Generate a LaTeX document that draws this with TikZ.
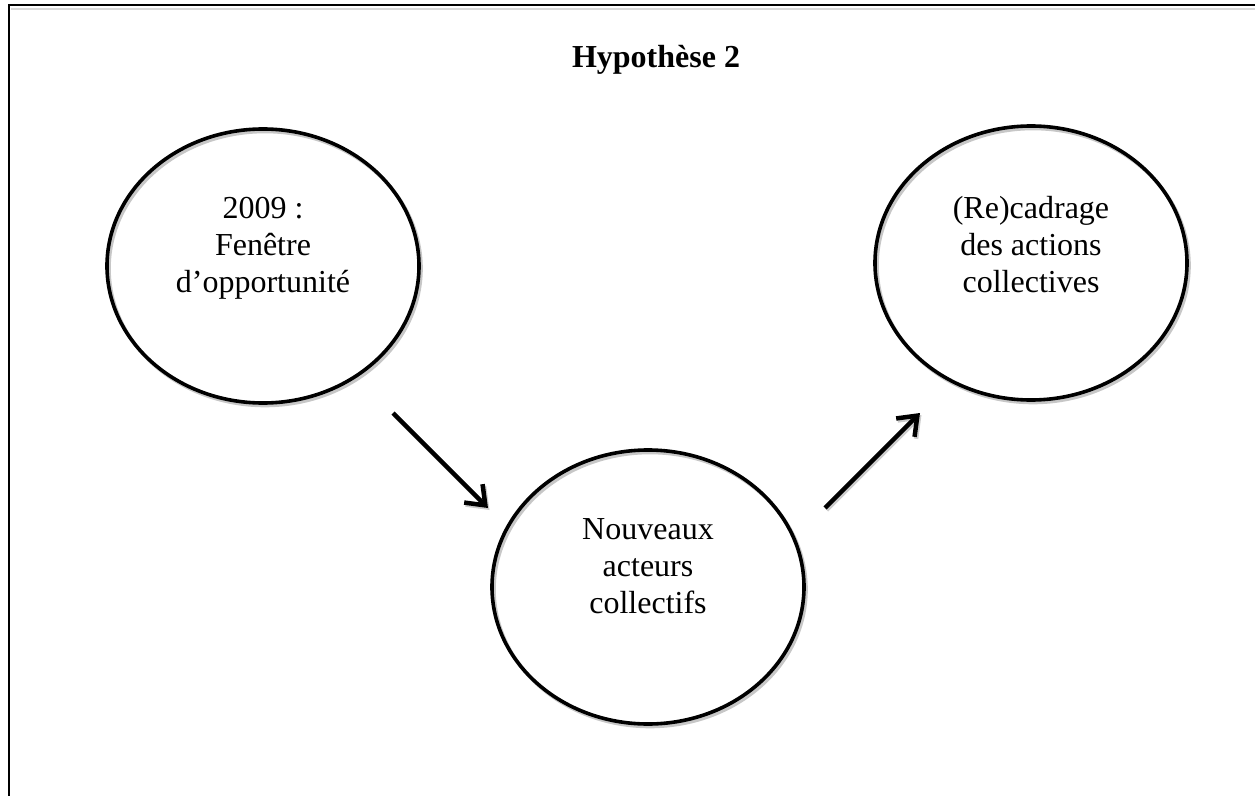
\documentclass[tikz,border=0pt]{standalone}
\usepackage{fontspec}
\setmainfont{Liberation Serif}
\usetikzlibrary{shapes.geometric,arrows.meta,calc}
\begin{document}
\begin{tikzpicture}[x=1bp,y=-1bp,
  bubble/.style={ellipse,draw,line width=3.6bp,minimum width=312bp,minimum height=274bp,inner sep=0pt},
  bubbleshadow/.style={ellipse,draw=black!22,line width=3.6bp,minimum width=312bp,minimum height=274bp,inner sep=0pt},
  lbl/.style={font=\fontsize{32bp}{37bp}\selectfont,align=center,anchor=base,inner sep=0pt},
  arr/.style={line width=4.5bp,-{Straight Barb[length=17bp,width=26bp,line width=4.5bp]}},
  arrshadow/.style={draw=black!20,line width=4.5bp,-{Straight Barb[length=17bp,width=26bp,line width=4.5bp]}}]
\useasboundingbox (0,0) rectangle (1255,796);
% frame
\draw[black!15,line width=2bp] (11,9.5) -- (1255,9.5);
\draw[line width=2.6bp] (9,796) -- (9,5) -- (1255,5);
% title
\node[font=\fontsize{32bp}{37bp}\selectfont\bfseries,anchor=base,inner sep=0pt] (title) at (656,68) {Hypothèse 2};
% shadows
\node[bubbleshadow] at (265,268.5) {};
\node[bubbleshadow] at (650,589.5) {};
\node[bubbleshadow] at (1033,265.5) {};
% bubbles
\node[bubble] (left) at (263,266) {};
\node[bubble] (mid) at (648,587) {};
\node[bubble] (right) at (1031,263) {};
% labels (base anchor = baseline of last line)
\node[lbl] (tleft) at ($(left.center)+(0,26)$) {2009 :\\Fenêtre\\d’opportunité};
\node[lbl] (tmid) at ($(mid.center)+(0,26)$) {Nouveaux\\acteurs\\collectifs};
\node[lbl] (tright) at ($(right.center)+(0,29)$) {(Re)cadrage\\des actions\\collectives};
% arrow end points
\coordinate (a1s) at ($(left.center)+(130,147)$);
\coordinate (a1e) at ($(mid.center)+(-160,-79)$);
\coordinate (a2s) at ($(mid.center)+(177,-79)$);
\coordinate (a2e) at ($(right.center)+(-111,150)$);
\draw[arrshadow] ($(a1s)+(1.5,2)$) -- ($(a1e)+(1.5,2)$);
\draw[arrshadow] ($(a2s)+(1.5,2)$) -- ($(a2e)+(1.5,2)$);
\draw[arr] (a1s) -- (a1e);
\draw[arr] (a2s) -- (a2e);
\end{tikzpicture}
\end{document}
